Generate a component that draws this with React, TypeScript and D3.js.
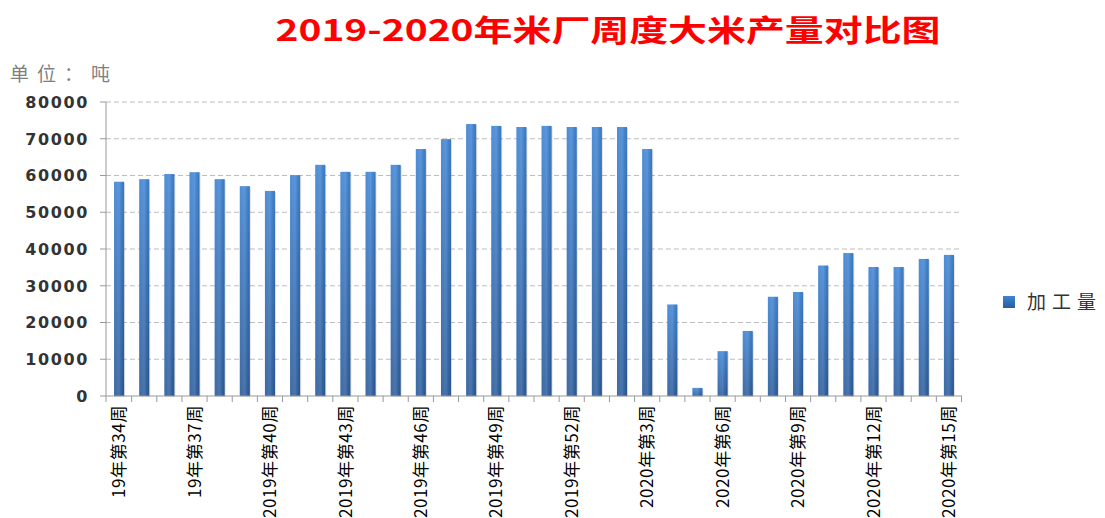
import * as d3 from 'd3';

const weeks2019 = [34, 35, 36, 37, 38, 39, 40, 41, 42, 43, 44, 45, 46, 47, 48, 49, 50, 51, 52];
const weeks2020 = [1, 2, 3, 4, 5, 6, 7, 8, 9, 10, 11, 12, 13, 14, 15];

const categories = [
  ...weeks2019.map(w => (w < 40 ? `19年第${w}周` : `2019年第${w}周`)),
  ...weeks2020.map(w => `2020年第${w}周`),
];

const output = [
  58300, 59000, 60400, 60900, 59000, 57100, 55800, 60100, 62900, 61000,
  61000, 62900, 67200, 69900, 74000, 73500, 73200, 73500, 73200,
  73200, 73200, 67200, 24900, 2200, 12200, 17700, 27000, 28300, 35500,
  38900, 35100, 35100, 37300, 38400,
];

const yTicks = [0, 10000, 20000, 30000, 40000, 50000, 60000, 70000, 80000];

const W = 1105;
const H = 518;
const margin = { top: 102, right: 143, bottom: 122, left: 106 };

export default function App() {
  const x = d3.scaleBand<string>()
    .domain(categories)
    .range([margin.left, W - margin.right])
    .paddingInner(0.6)
    .paddingOuter(0.32);

  const y = d3.scaleLinear()
    .domain([0, 80000])
    .range([H - margin.bottom, margin.top]);

  const step = x.step();
  const bw = x.bandwidth();
  const baseY = y(0);

  // tick marks between categories
  const boundaries = [
    margin.left,
    ...categories.map(c => (x(c) as number) + bw + step * 0.3),
  ];
  const lblFont = '"Noto Sans CJK SC", sans-serif';

  return (
    <svg width={W} height={H} style={{ position: 'absolute', left: 0, top: 0, background: '#fff' }}>
      <defs>
        <linearGradient id="barGrad" x1="0" y1="0" x2="0" y2="1">
          <stop offset="0%" stopColor="#3f84d4" />
          <stop offset="100%" stopColor="#2b5c9c" />
        </linearGradient>
        <linearGradient id="barGradH" x1="0" y1="0" x2="1" y2="0">
          <stop offset="0%" stopColor="#ffffff" stopOpacity="0.08" />
          <stop offset="50%" stopColor="#ffffff" stopOpacity="0.15" />
          <stop offset="100%" stopColor="#000000" stopOpacity="0.08" />
        </linearGradient>
      </defs>

      <text
        x={608}
        y={41}
        textAnchor="middle"
        fill="#ff0000"
        fontSize={30}
        fontWeight={600}
        fontFamily={lblFont}
        textLength={665}
        lengthAdjust="spacingAndGlyphs"
      >
        2019-2020年米厂周度大米产量对比图
      </text>

      <text x={10} y={81} fill="#7f7f7f" fontSize={19} fontFamily={lblFont} letterSpacing={8}>
        单位：吨
      </text>

      {/* grid */}
      {yTicks.filter(t => t > 0).map(t => (
        <line
          key={t}
          x1={margin.left}
          x2={W - margin.right}
          y1={y(t)}
          y2={y(t)}
          stroke="#bdbdbd"
          strokeDasharray="5,3"
        />
      ))}

      {/* y axis */}
      <line x1={margin.left} x2={margin.left} y1={y(80000)} y2={baseY} stroke="#999" />
      {yTicks.map(t => (
        <g key={t}>
          <line x1={margin.left - 6} x2={margin.left} y1={y(t)} y2={y(t)} stroke="#999" />
          <text
            x={89}
            y={y(t)}
            dy="0.36em"
            textAnchor="end"
            fontSize={16}
            fontWeight={700}
            fontFamily="DejaVu Sans, sans-serif"
            letterSpacing={1.6}
            fill="#333"
          >
            {t}
          </text>
        </g>
      ))}

      {/* bars */}
      {categories.map((c, i) => (
        <g key={c}>
          <rect
            x={(x(c) as number) + 1}
            y={y(output[i]) + 1}
            width={bw}
            height={baseY - y(output[i])}
            fill="#000"
            opacity={0.12}
          />
          <rect
            x={x(c)}
            y={y(output[i])}
            width={bw}
            height={baseY - y(output[i])}
            fill="url(#barGrad)"
          />
          <rect
            x={x(c)}
            y={y(output[i])}
            width={bw}
            height={baseY - y(output[i])}
            fill="url(#barGradH)"
          />
        </g>
      ))}

      {/* x axis */}
      <line x1={margin.left} x2={W - margin.right} y1={baseY} y2={baseY} stroke="#999" />
      {boundaries.map((b, i) => (
        <line key={i} x1={b} x2={b} y1={baseY} y2={baseY + 6} stroke="#999" />
      ))}
      {categories.map((c, i) =>
        i % 3 === 0 ? (
          <text
            key={c}
            transform={`translate(${(x(c) as number) + bw / 2},${baseY + 9}) rotate(-90)`}
            dy="0.36em"
            textAnchor="end"
            fontSize={17}
            fontFamily={lblFont}
            letterSpacing={0.6}
            fill="#000"
          >
            {c}
          </text>
        ) : null
      )}

      {/* legend */}
      <rect x={1003} y={296} width={12} height={12} fill="url(#barGrad)" />
      <text x={1027} y={302} dy="0.36em" fontSize={19} fontFamily={lblFont} letterSpacing={6} fill="#333">
        加工量
      </text>
    </svg>
  );
}
